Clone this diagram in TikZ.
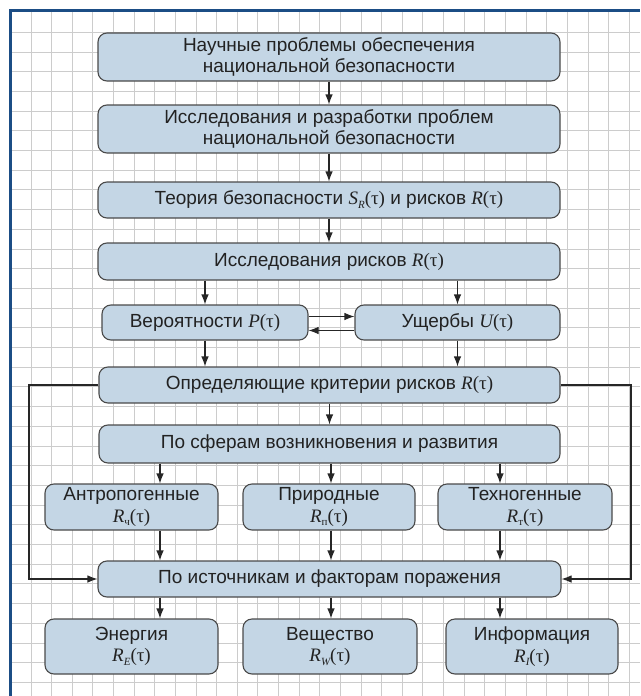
\documentclass[tikz,border=0pt]{standalone}
\usepackage{fontspec}
\setmainfont{Liberation Sans}
\newfontfamily\tms{Liberation Serif}
\usetikzlibrary{arrows.meta}
\definecolor{boxfill}{HTML}{C4D6E5}
\definecolor{boxline}{HTML}{4A4A4A}
\definecolor{gridc}{HTML}{CCCCCC}
\definecolor{frameblue}{HTML}{1B4D85}
\definecolor{txt}{HTML}{222222}
\newcommand\myfn[2]{{\tms\itshape #1}\raisebox{-0.35ex}{\tms\itshape\fontsize{11}{11}\selectfont #2}{\tms(τ)}}
\newcommand\myfu[2]{{\tms\itshape #1}\raisebox{-0.35ex}{\tms\fontsize{11}{11}\selectfont #2}{\tms(τ)}}
\newcommand\myf[1]{{\tms\itshape #1}{\tms(τ)}}
\tikzset{
  box/.style={draw=boxline, line width=1.1pt, fill=boxfill, rounded corners=9pt,
    align=center, inner sep=0pt, text=txt, font=\fontsize{19}{21.5}\selectfont},
  arr/.style={draw=black!85, line width=1.1pt, -{Latex[length=10pt,width=7.5pt]}},
  gridline/.style={draw=gridc, line width=1pt}
}
\begin{document}
\begin{tikzpicture}[x=1pt,y=-1pt]
\useasboundingbox (0,0) rectangle (640,696);
\fill[white] (0,0) rectangle (640,696);
% grid
\foreach \k in {0,...,29} \draw[gridline] ({31+\k*20.63},11) -- ({31+\k*20.63},696);
\foreach \k in {0,...,33} \draw[gridline] (10,{32.3+\k*19.7}) -- (640,{32.3+\k*19.7});
% frame
\draw[frameblue, line width=3pt] (10,696) -- (10,10.5) -- (640,10.5);
% boxes
\node[box, minimum width=462pt, minimum height=48pt] (b1) at (329,57) {Научные проблемы обеспечения\\национальной безопасности};
\node[box, minimum width=462pt, minimum height=48pt] (b2) at (329,129) {Исследования и разработки проблем\\национальной безопасности};
\node[box, minimum width=462pt, minimum height=36pt] (b3) at (329,200) {Теория безопасности \myfn{S}{R} и рисков \myf{R}};
\node[box, minimum width=462pt, minimum height=37pt] (b4) at (329,261.5) {Исследования рисков \myf{R}};
\node[box, minimum width=206pt, minimum height=35pt] (b5) at (205,322.5) {Вероятности \myf{P}};
\node[box, minimum width=205pt, minimum height=35pt] (b6) at (457.5,322.5) {Ущербы \myf{U}};
\node[box, minimum width=461pt, minimum height=36pt] (b7) at (329.5,385) {Определяющие критерии рисков \myf{R}};
\node[box, minimum width=461pt, minimum height=38pt] (b8) at (329.5,444) {По сферам возникновения и развития};
\node[box, minimum width=173pt, minimum height=46pt] (b9) at (131.5,507) {Антропогенные\\\myfu{R}{ч}};
\node[box, minimum width=172pt, minimum height=46pt] (b10) at (329,507) {Природные\\\myfu{R}{п}};
\node[box, minimum width=174pt, minimum height=46pt] (b11) at (525,507) {Техногенные\\\myfu{R}{т}};
\node[box, minimum width=463pt, minimum height=36pt] (b12) at (329.5,579) {По источникам и факторам поражения};
\node[box, minimum width=173pt, minimum height=55pt] (b13) at (131.5,646.5) {Энергия\\\myfn{R}{E}};
\node[box, minimum width=174pt, minimum height=55pt] (b14) at (330,646.5) {Вещество\\\myfn{R}{W}};
\node[box, minimum width=172pt, minimum height=55pt] (b15) at (532,646.5) {Информация\\\myfn{R}{I}};
% helper coordinates
\coordinate (xa) at (160,0);
\coordinate (xb) at (331,0);
\coordinate (xc) at (500,0);
\coordinate (xl) at (29,0);
\coordinate (xr) at (631,0);
% arrows
\draw[arr] (b1) -- (b2);
\draw[arr] (b2) -- (b3);
\draw[arr] (b3) -- (b4);
\draw[arr] (b4.south -| b5.north) -- (b5.north);
\draw[arr] (b4.south -| b6.north) -- (b6.north);
\draw[arr] ([yshift=6pt]b5.east) -- ([yshift=6pt]b6.west);
\draw[arr] ([yshift=-8pt]b6.west) -- ([yshift=-8pt]b5.east);
\draw[arr] (b5.south) -- (b5.south |- b7.north);
\draw[arr] (b6.south) -- (b6.south |- b7.north);
\draw[arr] (b7) -- (b8);
\draw[arr] (b8.south -| xa) -- (b9.north -| xa);
\draw[arr] (b8.south -| xb) -- (b10.north -| xb);
\draw[arr] (b8.south -| xc) -- (b11.north -| xc);
\draw[arr] (b9.south -| xa) -- (b12.north -| xa);
\draw[arr] (b10.south -| xb) -- (b12.north -| xb);
\draw[arr] (b11.south -| xc) -- (b12.north -| xc);
\draw[arr] (b12.south -| xa) -- (b13.north -| xa);
\draw[arr] (b12.south -| xb) -- (b14.north -| xb);
\draw[arr] (b12.south -| xc) -- (b15.north -| xc);
\draw[arr] (b7.west) -- (b7.west -| xl) |- (b12.west);
\draw[arr] (b7.east) -- (b7.east -| xr) |- (b12.east);
\end{tikzpicture}
\end{document}
